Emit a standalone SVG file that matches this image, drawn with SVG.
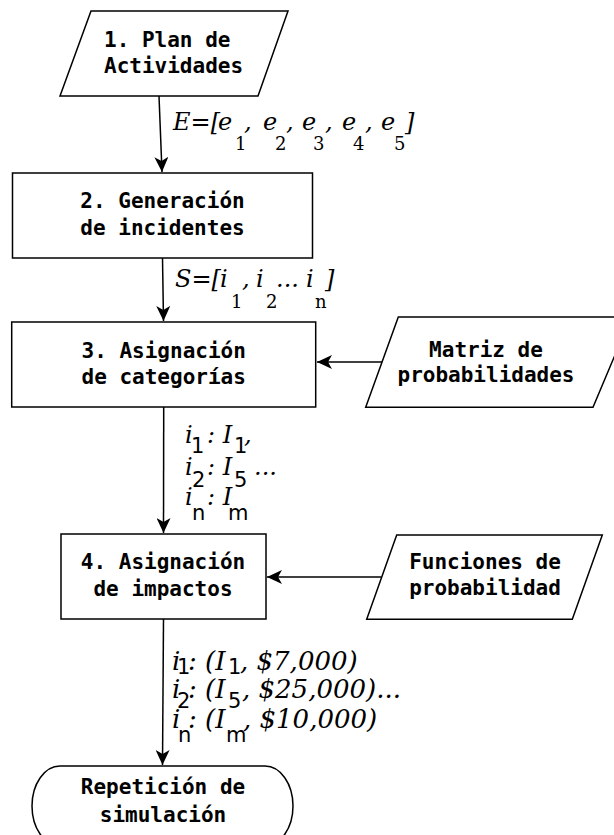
<svg xmlns="http://www.w3.org/2000/svg" width="614" height="835" viewBox="0 0 614 835">
<style>
.shape{fill:#fff;stroke:#000;stroke-width:1.5}
.node{font-family:"DejaVu Sans Mono",monospace;font-weight:bold;font-size:21px;fill:#000}
.edge{stroke:#000;stroke-width:1.5;fill:none}
.lbl{font-family:"DejaVu Serif",serif;font-style:italic;font-size:24px;fill:#000}
.lbl4{font-family:"DejaVu Serif",serif;font-style:italic;font-size:26px;fill:#000}
.subs{font-family:"DejaVu Serif",serif;font-style:normal;font-size:18px}
.subn{font-family:"DejaVu Sans",sans-serif;font-style:normal;font-size:21px}
</style>
<defs>
<marker id="arr" markerUnits="userSpaceOnUse" markerWidth="16" markerHeight="14" refX="15" refY="7" orient="auto">
<path d="M0,0 L15,7 L0,14 L4,7 Z" fill="#000"/>
</marker>
</defs>
<g id="connectors">
<line class="edge" x1="159" y1="96" x2="162" y2="172" marker-end="url(#arr)"/>
<line class="edge" x1="162.5" y1="258" x2="163.5" y2="321" marker-end="url(#arr)"/>
<line class="edge" x1="382" y1="362" x2="317" y2="362" marker-end="url(#arr)"/>
<line class="edge" x1="163.7" y1="407" x2="163.5" y2="533" marker-end="url(#arr)"/>
<line class="edge" x1="381" y1="577" x2="267" y2="577" marker-end="url(#arr)"/>
<line class="edge" x1="163.5" y1="619" x2="162.5" y2="765" marker-end="url(#arr)"/>
<text class="lbl"><tspan x="173" y="130">E=[</tspan><tspan x="218">e</tspan><tspan class="subs" x="235" y="150">1</tspan><tspan x="244" y="130">,</tspan><tspan x="263">e</tspan><tspan class="subs" x="275" y="150">2</tspan><tspan x="286" y="130">,</tspan><tspan x="302">e</tspan><tspan class="subs" x="313" y="150">3</tspan><tspan x="325" y="130">,</tspan><tspan x="342">e</tspan><tspan class="subs" x="353" y="150">4</tspan><tspan x="365" y="130">,</tspan><tspan x="381">e</tspan><tspan class="subs" x="394" y="150">5</tspan><tspan x="405" y="130">]</tspan></text>
<text class="lbl"><tspan x="175" y="287">S=[</tspan><tspan x="220">i</tspan><tspan class="subs" x="231" y="308">1</tspan><tspan x="242" y="287">,</tspan><tspan x="256">i</tspan><tspan class="subs" x="266" y="308">2</tspan><tspan x="276" y="287">...</tspan><tspan x="306">i</tspan><tspan class="subs" x="315" y="308">n</tspan><tspan x="325" y="287">]</tspan></text>
<text class="lbl"><tspan x="185" y="443">i</tspan><tspan class="subn" x="191" y="453">1</tspan><tspan x="207" y="443">: I</tspan><tspan class="subn" x="234" y="453">1</tspan><tspan x="244" y="443">,</tspan><tspan x="185" y="475">i</tspan><tspan class="subn" x="192" y="487">2</tspan><tspan x="207" y="475">: I</tspan><tspan class="subn" x="234" y="487">5</tspan><tspan x="254" y="475">...</tspan><tspan x="185" y="505">i</tspan><tspan class="subn" x="192" y="520">n</tspan><tspan x="207" y="505">: I</tspan><tspan class="subn" x="228" y="520">m</tspan></text>
<text class="lbl4"><tspan x="172" y="670">i</tspan><tspan class="subn" x="177" y="674">1</tspan><tspan x="188" y="670">: (I</tspan><tspan class="subn" x="228" y="674">1</tspan><tspan x="240" y="670">, $7,000)</tspan><tspan x="172" y="698">i</tspan><tspan class="subn" x="177" y="708">2</tspan><tspan x="188" y="698">: (I</tspan><tspan class="subn" x="228" y="708">5</tspan><tspan x="242" y="698">, $25,000)...</tspan><tspan x="172" y="728">i</tspan><tspan class="subn" x="178" y="742">n</tspan><tspan x="188" y="728">: (I</tspan><tspan class="subn" x="226" y="742">m</tspan><tspan x="243" y="728">, $10,000)</tspan></text>
</g>
<g id="n1">
<polygon class="shape" points="91,11 288,11 258,96 60,96"/>
<text class="node" x="104" y="47">1. Plan de</text>
<text class="node" x="104" y="73">Actividades</text>
</g>
<g id="n2">
<rect class="shape" x="12.5" y="173" width="300" height="85"/>
<text class="node" text-anchor="middle" x="162.5" y="208">2. Generación</text>
<text class="node" text-anchor="middle" x="162.5" y="235">de incidentes</text>
</g>
<g id="n3">
<rect class="shape" x="11.7" y="322" width="304" height="85"/>
<text class="node" text-anchor="middle" x="163.7" y="358">3. Asignación</text>
<text class="node" text-anchor="middle" x="163.7" y="384">de categorías</text>
</g>
<g id="matriz">
<polygon class="shape" points="398.3,317 631,317 593,407.3 365.7,407.3"/>
<text class="node" text-anchor="middle" x="486" y="357">Matriz de</text>
<text class="node" text-anchor="middle" x="486" y="382">probabilidades</text>
</g>
<g id="n4">
<rect class="shape" x="61" y="534" width="205" height="85"/>
<text class="node" text-anchor="middle" x="163" y="569">4. Asignación</text>
<text class="node" text-anchor="middle" x="163" y="596">de impactos</text>
</g>
<g id="funciones">
<polygon class="shape" points="396.7,535 602.3,535 572.3,619.3 366.7,619.3"/>
<text class="node" text-anchor="middle" x="485" y="569">Funciones de</text>
<text class="node" text-anchor="middle" x="485" y="595">probabilidad</text>
</g>
<g id="repeticion">
<rect class="shape" x="32" y="766" width="261" height="80" rx="28" ry="40"/>
<text class="node" text-anchor="middle" x="163" y="794">Repetición de</text>
<text class="node" text-anchor="middle" x="163" y="822">simulación</text>
</g>
</svg>
